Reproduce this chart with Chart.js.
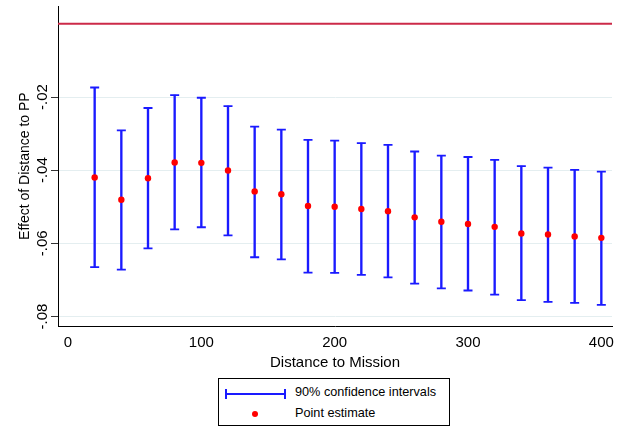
<!DOCTYPE html>
<html>
<head>
<meta charset="utf-8">
<script src="https://cdn.jsdelivr.net/npm/chart.js@4"></script>
<style>
  html, body { margin: 0; padding: 0; background: #fff; }
  #wrap { position: relative; width: 625px; height: 430px; font-family: "Liberation Sans", Arial, sans-serif; }
  #chartBox { position: absolute; left: 0; top: 0; width: 625px; height: 372px; }
  #legend { position: absolute; left: 218px; top: 378px; width: 232px; height: 48px; border: 1px solid #000; box-sizing: border-box; background: #fff; }
  .item { position: absolute; left: 0; font-size: 12.7px; color: #000; }
  .lbl { position: absolute; left: 76px; white-space: nowrap; }
  .ci { position: absolute; left: 6px; width: 61px; height: 2px; background: #1a1aff; }
  .ci:before, .ci:after { content: ""; position: absolute; top: -4px; width: 2px; height: 10px; background: #1a1aff; }
  .ci:before { left: 0; } .ci:after { right: 0; }
  .dot { position: absolute; left: 33px; width: 6px; height: 6px; border-radius: 50%; background: #ff0000; }
</style>
</head>
<body>
<div id="wrap">
  <div id="chartBox"><canvas id="c"></canvas></div>
  <div id="legend">
    <div class="ci" style="top:14px"></div><div class="item lbl" style="top:6px">90% confidence intervals</div>
    <div class="dot" style="top:32px"></div><div class="item lbl" style="top:27px">Point estimate</div>
  </div>
</div>
<script>
const distances = [20,40,60,80,100,120,140,160,180,200,220,240,260,280,300,320,340,360,380,400];
const pointEstimate = [-0.0420,-0.0481,-0.0422,-0.0379,-0.0380,-0.0401,-0.0458,-0.0466,-0.0498,-0.0500,-0.0506,-0.0512,-0.0529,-0.0541,-0.0547,-0.0555,-0.0573,-0.0576,-0.0581,-0.0585];
const upperCI = [-0.0174,-0.0291,-0.0230,-0.0195,-0.0202,-0.0225,-0.0281,-0.0289,-0.0317,-0.0319,-0.0326,-0.0331,-0.0349,-0.0360,-0.0364,-0.0372,-0.0389,-0.0393,-0.0399,-0.0404];
const lowerCI = [-0.0665,-0.0672,-0.0614,-0.0562,-0.0556,-0.0578,-0.0638,-0.0644,-0.0680,-0.0681,-0.0686,-0.0693,-0.0710,-0.0723,-0.0729,-0.0740,-0.0755,-0.0760,-0.0763,-0.0768];
const yTicks = [-0.08,-0.06,-0.04,-0.02];
const xTicks = [0,100,200,300,400];
const refLineValue = 0;
const xMin = -7.5, xMax = 408, yMin = -0.0826, yMax = 0.0048;

const BLUE = '#1a1aff';
const family = '"Liberation Sans", Arial, sans-serif';
const tickFont = { family: family, size: 15 };
const xTitleFont = { family: family, size: 15 };
const yTitleFont = { family: family, size: 14 };

new Chart(document.getElementById('c'), {
  data: {
    datasets: [
      { type: 'line', data: [{x: xMin, y: refLineValue}, {x: xMax, y: refLineValue}], borderColor: '#cc2a48', borderWidth: 2, pointRadius: 0, order: 5 },
      { type: 'bar', data: distances.map((d,i) => ({x: d, y: [lowerCI[i], upperCI[i]]})), backgroundColor: BLUE, borderWidth: 0, barThickness: 1.7, order: 4 },
      { type: 'scatter', data: distances.map((d,i) => ({x: d, y: upperCI[i]})), pointStyle: 'line', pointRadius: 4.5, borderColor: BLUE, borderWidth: 1.8, order: 3 },
      { type: 'scatter', data: distances.map((d,i) => ({x: d, y: lowerCI[i]})), pointStyle: 'line', pointRadius: 4.5, borderColor: BLUE, borderWidth: 1.8, order: 3 },
      { type: 'scatter', data: distances.map((d,i) => ({x: d, y: pointEstimate[i]})), pointStyle: 'circle', pointRadius: 3.2, backgroundColor: '#ff0000', borderColor: '#ff0000', borderWidth: 0, order: 1 }
    ]
  },
  options: {
    responsive: true,
    maintainAspectRatio: false,
    animation: false,
    layout: { padding: { left: 0, top: 5, right: 13, bottom: 0 } },
    plugins: { legend: { display: false }, tooltip: { enabled: false } },
    scales: {
      x: {
        type: 'linear', min: xMin, max: xMax, offset: false,
        afterBuildTicks: s => { s.ticks = xTicks.map(v => ({value: v})); },
        afterFit: s => { s.height = 46; },
        grid: { display: false, drawTicks: true, tickLength: 5, tickColor: '#000', offset: false },
        border: { color: '#000', width: 1 },
        ticks: { color: '#000', font: tickFont, padding: 3, maxRotation: 0 },
        title: { display: true, text: 'Distance to Mission', color: '#000', font: xTitleFont, padding: { top: 0, bottom: 0 } }
      },
      y: {
        type: 'linear', min: yMin, max: yMax,
        afterBuildTicks: s => { s.ticks = yTicks.map(v => ({value: v})); },
        afterFit: s => { s.width = 58; },
        grid: { color: '#e4eef0', lineWidth: 1, drawTicks: true, tickLength: 7, tickColor: '#333' },
        border: { color: '#000', width: 1 },
        ticks: { color: '#000', font: tickFont, padding: -5, minRotation: 90, maxRotation: 90, crossAlign: 'center',
          callback: v => { const s = v.toFixed(2); return s.replace('0.', '.'); } },
        title: { display: true, text: 'Effect of Distance to PP', color: '#000', font: yTitleFont, padding: { top: 17, bottom: 0 } }
      }
    }
  }
});
</script>
</body>
</html>
